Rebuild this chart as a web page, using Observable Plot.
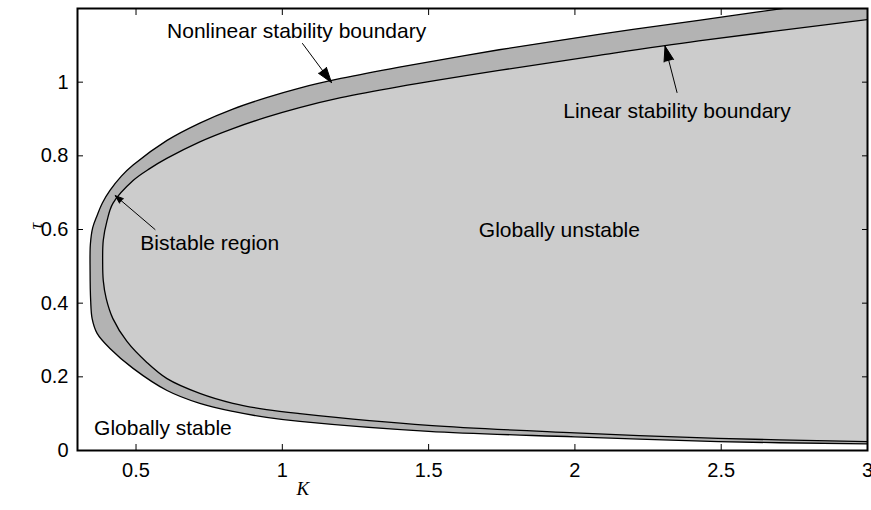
<!DOCTYPE html>
<html><head><meta charset="utf-8">
<script src="https://cdn.jsdelivr.net/npm/d3@7"></script>
<script src="https://cdn.jsdelivr.net/npm/@observablehq/plot@0.6"></script>
<style>body{margin:0;background:#fff;}</style>
</head><body><div id="chart"></div>
<script>
// Linear stability boundary (inner curve), traversed lower-right -> tip -> upper-right
const linearK   = [3.0, 2.49, 2.0, 1.5, 1.06, 0.946, 0.831, 0.718, 0.606, 0.537, 0.469, 0.421, 0.398, 0.388, 0.386, 0.388, 0.401, 0.421, 0.49, 0.548, 0.605, 0.718, 0.831, 0.946, 1.059, 1.2, 1.4, 1.741, 2.082, 2.423, 3.0];
const linearTau = [0.024, 0.033, 0.048, 0.068, 0.100, 0.111, 0.128, 0.155, 0.195, 0.239, 0.296, 0.358, 0.413, 0.462, 0.510, 0.570, 0.624, 0.671, 0.733, 0.766, 0.793, 0.838, 0.874, 0.905, 0.931, 0.958, 0.988, 1.032, 1.073, 1.112, 1.170];
// Nonlinear stability boundary (outer curve)
const nonlinearK   = [3.0, 2.49, 2.0, 1.5, 1.06, 0.946, 0.831, 0.718, 0.606, 0.49, 0.411, 0.367, 0.350, 0.345, 0.343, 0.344, 0.352, 0.367, 0.385, 0.411, 0.45, 0.49, 0.606, 0.718, 0.831, 0.946, 1.059, 1.2, 1.4, 1.741, 2.082, 2.423, 2.62, 3.0];
const nonlinearTau = [0.018, 0.024, 0.037, 0.052, 0.079, 0.090, 0.106, 0.128, 0.163, 0.223, 0.277, 0.318, 0.358, 0.407, 0.489, 0.560, 0.605, 0.638, 0.672, 0.706, 0.745, 0.775, 0.842, 0.889, 0.927, 0.958, 0.984, 1.010, 1.041, 1.088, 1.130, 1.168, 1.190, 1.232];

const xTicks = [0.5, 1, 1.5, 2, 2.5, 3];
const yTicks = [0, 0.2, 0.4, 0.6, 0.8, 1];

const annotText = ["Nonlinear stability boundary", "Linear stability boundary", "Bistable region", "Globally unstable", "Globally stable"];
const annotK    = [1.049, 2.349, 0.752, 1.947, 0.592];
const annotTau  = [1.138, 0.920, 0.562, 0.599, 0.060];

const bigArrowK1 = [1.069, 2.349];
const bigArrowT1 = [1.105, 0.972];
const bigArrowK2 = [1.168, 2.308];
const bigArrowT2 = [0.999, 1.098];
const smallArrowK1 = [0.565], smallArrowT1 = [0.600], smallArrowK2 = [0.429], smallArrowT2 = [0.692];

const linear = linearK.map((k, i) => ({K: k, tau: linearTau[i]}));
const nonlinear = nonlinearK.map((k, i) => ({K: k, tau: nonlinearTau[i]}));
const annots = annotText.map((t, i) => ({text: t, K: annotK[i], tau: annotTau[i]}));
const bigArrows = bigArrowK1.map((k, i) => ({x1: k, y1: bigArrowT1[i], x2: bigArrowK2[i], y2: bigArrowT2[i]}));
const smallArrows = smallArrowK1.map((k, i) => ({x1: k, y1: smallArrowT1[i], x2: smallArrowK2[i], y2: smallArrowT2[i]}));

const fmt = d => String(d);

const plot = Plot.plot({
  width: 871, height: 510,
  marginLeft: 77, marginRight: 4, marginTop: 8, marginBottom: 60,
  x: {domain: [0.3, 3]},
  y: {domain: [0, 1.2]},
  style: {fontFamily: "'Liberation Sans', Arial, sans-serif", fontSize: "20px", background: "white", color: "black", overflow: "visible"},
  marks: [
    Plot.line(nonlinear, {x: "K", y: "tau", fill: "#b3b3b3", stroke: "none", curve: "catmull-rom", clip: true}),
    Plot.line(linear, {x: "K", y: "tau", fill: "#cccccc", stroke: "none", curve: "catmull-rom", clip: true}),
    Plot.line(nonlinear, {x: "K", y: "tau", stroke: "black", strokeWidth: 1.3, curve: "catmull-rom", clip: true}),
    Plot.line(linear, {x: "K", y: "tau", stroke: "black", strokeWidth: 1.3, curve: "catmull-rom", clip: true}),
    Plot.axisX(xTicks, {anchor: "bottom", tickSize: -6, tickPadding: 18, tickFormat: fmt, label: null, fontSize: 20}),
    Plot.axisX(xTicks, {anchor: "top", tickSize: -6, tickFormat: () => "", label: null}),
    Plot.axisY(yTicks, {anchor: "left", tickSize: -6, tickPadding: 15, tickFormat: fmt, label: null, fontSize: 20}),
    Plot.axisY(yTicks, {anchor: "right", tickSize: -6, tickFormat: () => "", label: null}),
    Plot.frame({strokeWidth: 2}),
    Plot.text(annots, {x: "K", y: "tau", text: "text", fontSize: 21}),
    Plot.arrow(bigArrows, {x1: "x1", y1: "y1", x2: "x2", y2: "y2", stroke: "black", strokeWidth: 1, headAngle: 36, headLength: 24}),
    Plot.arrow(smallArrows, {x1: "x1", y1: "y1", x2: "x2", y2: "y2", stroke: "black", strokeWidth: 1, headAngle: 40, headLength: 13}),
    Plot.text(["K"], {x: [1.07], frameAnchor: "bottom", dy: 44, text: d => d, fontFamily: "'Liberation Serif', 'DejaVu Serif', serif", fontStyle: "italic", fontSize: 19}),
    Plot.text(["τ"], {y: [0.6], frameAnchor: "left", dx: -42, rotate: -90, text: d => d, fontFamily: "'Liberation Serif', 'DejaVu Serif', serif", fontStyle: "italic", fontSize: 19})
  ]
});
// filled arrowheads
plot.querySelectorAll('g[aria-label="arrow"] path').forEach(p => { p.setAttribute("fill", "black"); p.style.fill = "black"; });
document.getElementById("chart").appendChild(plot);
</script>
</body></html>
